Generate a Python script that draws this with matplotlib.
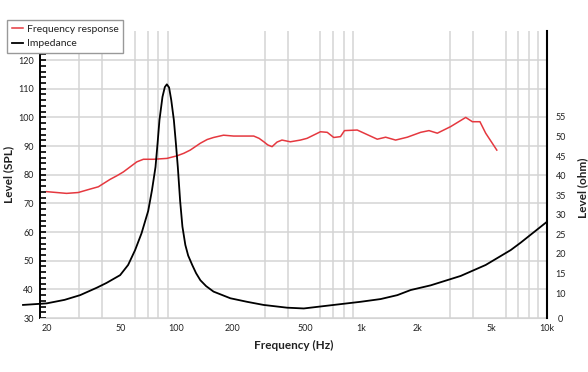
import numpy as np
import matplotlib
matplotlib.use("Agg")
import matplotlib.pyplot as plt
from matplotlib.ticker import FixedLocator, MultipleLocator, NullFormatter

plt.rcParams['font.family'] = ['Lato', 'DejaVu Sans']

# frequency response (SPL)
spl_freq = [20, 25.6, 29.6, 34.3, 38, 44, 48, 51.9, 56, 61.3, 66.5, 75.4, 89, 101, 110,
            119, 135, 147, 159, 180, 204, 262, 280, 297, 312, 329, 350, 372, 413, 468,
            508, 600, 653, 708, 770, 809, 948, 1216, 1349, 1527, 1766, 2085, 2312,
            2565, 3027, 3650, 3965, 4355, 4677, 5370]
spl_level = [74.1, 73.5, 73.8, 75.0, 75.8, 78.4, 79.7, 81.0, 82.6, 84.5, 85.4, 85.4,
             85.7, 86.6, 87.5, 88.6, 91.0, 92.3, 93.0, 93.8, 93.5, 93.5, 92.7, 91.5,
             90.4, 89.8, 91.4, 92.1, 91.5, 92.1, 92.7, 95.0, 94.8, 93.0, 93.3, 95.4,
             95.6, 92.4, 93.1, 92.1, 93.1, 94.8, 95.4, 94.5, 96.8, 100.0, 98.5, 98.5,
             94.5, 88.6]

# impedance (ohm)
imp_freq = [14.9, 20, 25, 30.3, 37.3, 42, 49.8, 55, 60, 65, 70.6, 74, 77.3, 79.3,
            81.2, 84.3, 86.8, 89, 91.5, 94, 97.1, 99.6, 102, 105, 108, 112, 116, 122,
            128, 135, 145, 159, 196, 241, 296, 396, 488, 625, 802, 988, 1268, 1560,
            1841, 2361, 3428, 4677, 6383, 7228, 10000]
imp_ohm = [7.0, 7.4, 8.3, 9.5, 11.4, 12.6, 14.6, 17.2, 21.0, 25.3, 31.0, 36.3, 42.2,
           48.2, 54.2, 60.1, 62.6, 63.3, 62.5, 59.3, 54.2, 48.2, 42.2, 33.5, 27.0,
           22.3, 19.6, 17.2, 15.1, 13.3, 11.8, 10.4, 8.7, 7.8, 7.0, 6.3, 6.1, 6.7,
           7.3, 7.8, 8.5, 9.5, 10.8, 12.0, 14.4, 17.2, 21.0, 22.9, 28.2]

x_ticks = [20, 50, 100, 200, 500, 1000, 2000, 5000, 10000]
x_labels = ['20', '50', '100', '200', '500', '1k', '2k', '5k', '10k']
x_grid = [20, 30, 40, 50, 60, 70, 80, 90, 100, 200, 300, 400, 500, 600, 700, 800, 900,
          1000, 2000, 3000, 4000, 5000, 6000, 7000, 8000, 9000, 10000]
ohm_ticks = [10, 15, 20, 25, 30, 35, 40, 45, 50, 55]

red = '#e5383f'
grid_c = '#d4d4d4'
txt_c = '#222222'

fig = plt.figure(figsize=(5.88, 3.72), dpi=100)
ax = fig.add_axes([0.068, 0.145, 0.862, 0.7705])
ax2 = ax.twinx()

ax.set_xscale('log')
ax.set_xlim(18.4, 10000)
ax.set_ylim(30, 130)
ax2.set_ylim(3.65, 76.8)

# grid
ax.xaxis.set_major_locator(FixedLocator(x_ticks))
ax.xaxis.set_minor_locator(FixedLocator(x_grid))
ax.xaxis.set_minor_formatter(NullFormatter())
ax.set_xticklabels(x_labels)
ax.grid(True, which='minor', axis='x', color=grid_c, lw=1.1)
ax.yaxis.set_major_locator(MultipleLocator(10))
ax.yaxis.set_minor_locator(MultipleLocator(2))
ax.grid(True, which='major', axis='y', color=grid_c, lw=1.1)
ax.set_yticks([30, 40, 50, 60, 70, 80, 90, 100, 110, 120])
ax.set_axisbelow(True)

ax.tick_params(axis='x', which='both', length=0, pad=4, labelsize=6.5, colors=txt_c)
ax.tick_params(axis='y', which='both', direction='in', length=4, width=1.2,
               pad=4.5, labelsize=6.5, labelcolor=txt_c, color='black')

for s in ['top', 'right']:
    ax.spines[s].set_visible(False)
ax.spines['bottom'].set_color(grid_c)
ax.spines['left'].set_linewidth(1.4)
for s in ['top', 'left', 'bottom']:
    ax2.spines[s].set_visible(False)
ax2.spines['right'].set_linewidth(1.5)

ax2.set_yticks([3.65] + ohm_ticks)
ax2.set_yticklabels(['0'] + [str(t) for t in ohm_ticks])
ax2.tick_params(axis='y', length=0, pad=10, labelsize=6.5, labelcolor=txt_c)
for lab in ax2.get_yticklabels():
    lab.set_horizontalalignment('center')

l1, = ax.plot(spl_freq, spl_level, color=red, lw=1.1, solid_joinstyle='round')
l2, = ax2.plot(imp_freq, imp_ohm, color='black', lw=1.3, clip_on=False,
               solid_joinstyle='round')

ax.set_xlabel('Frequency (Hz)', fontsize=8.5, fontweight='bold', color=txt_c)
ax.xaxis.set_label_coords(0.5, -0.075)
ax.set_ylabel('Level (SPL)', fontsize=8.5, fontweight='bold', color=txt_c)
ax.yaxis.set_label_coords(-0.051, 0.5)
ax2.set_ylabel('Level (ohm)', fontsize=8.5, fontweight='bold', color=txt_c, rotation=90)
ax2.yaxis.set_label_coords(1.06, 0.454)

fig.legend([l1, l2], ['Frequency response', 'Impedance'], loc='upper left',
           bbox_to_anchor=(7 / 588, 1 - 20 / 372), fontsize=7.5, frameon=True,
           fancybox=False, edgecolor='#999999', framealpha=1, borderaxespad=0,
           borderpad=0.45, handlelength=1.1, handletextpad=0.35, labelspacing=0.5,
           labelcolor=txt_c)

fig.savefig('out.png', dpi=100)
